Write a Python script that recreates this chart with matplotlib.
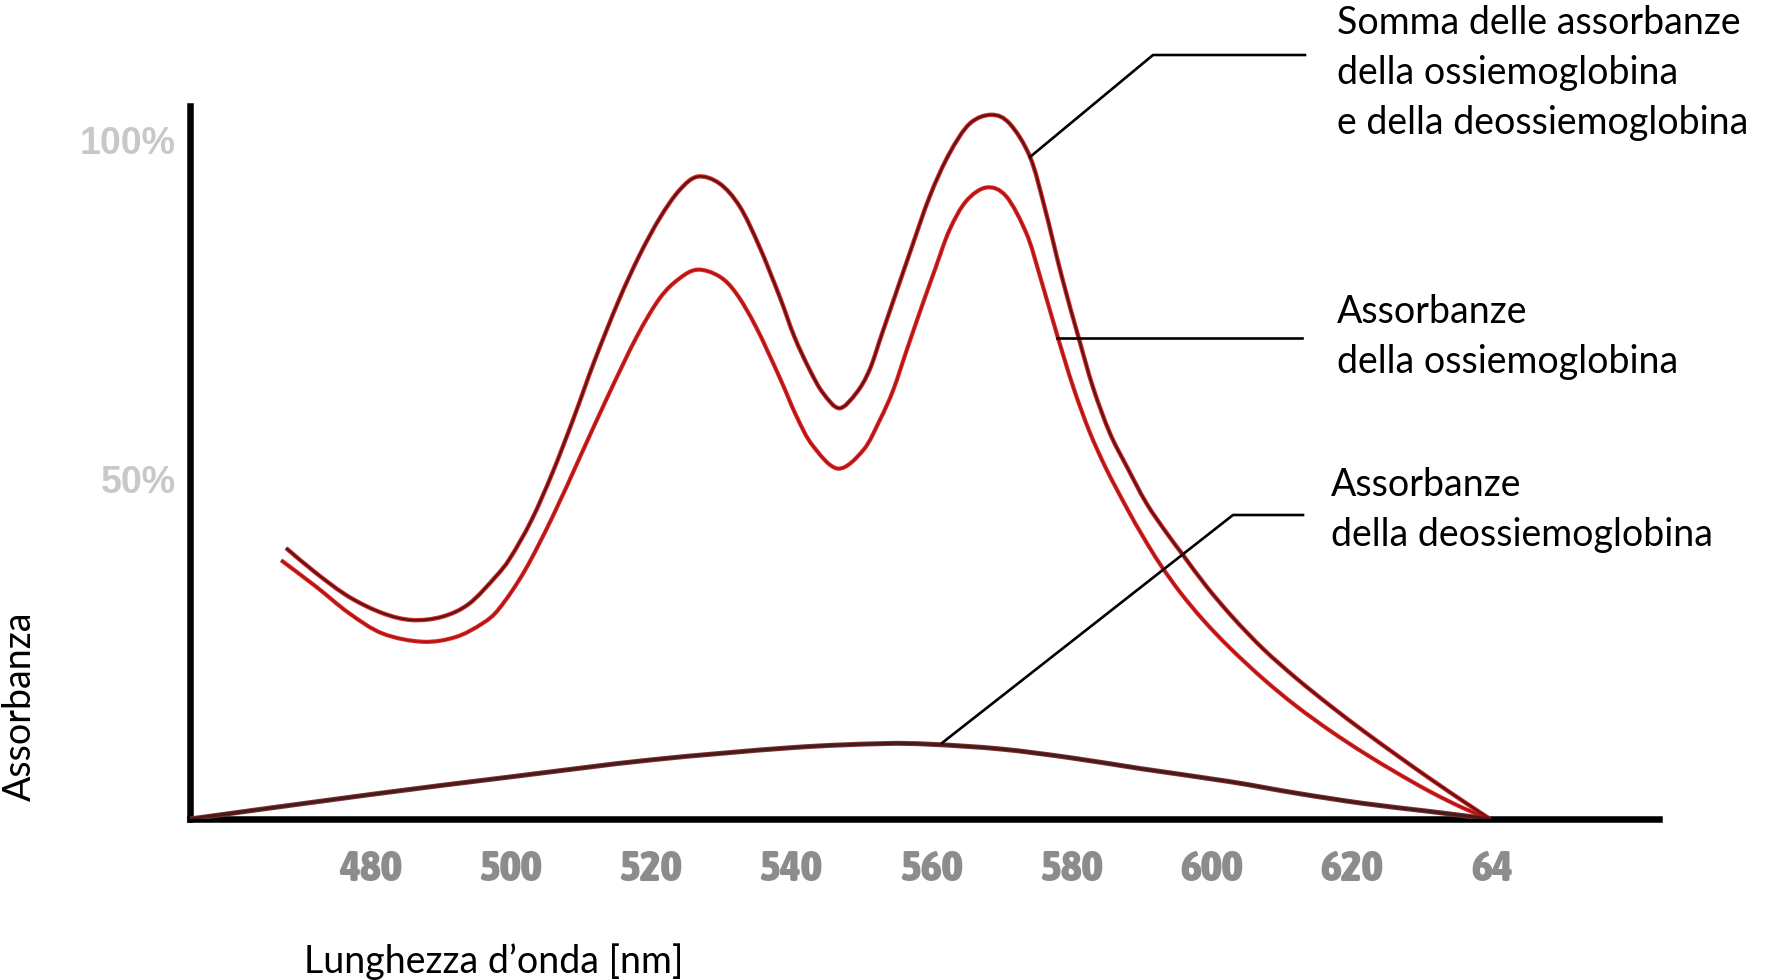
import matplotlib
matplotlib.use("Agg")
import matplotlib.pyplot as plt
import numpy as np
from matplotlib import font_manager as fm
from matplotlib.lines import Line2D
from matplotlib.path import Path
from matplotlib.patches import PathPatch

# --------------------
# Data (wavelength in nm, absorbance in %)
# --------------------
wl_sum = [468.0, 472.3, 477.0, 481.8, 486.0, 490.3, 494.1, 497.9, 500.0, 503.0,
          506.0, 509.0, 512.0, 515.5, 518.4, 521.3, 524.1, 526.7, 529.8, 532.7,
          535.5, 538.4, 540.5, 542.7, 544.6, 546.9, 549.3, 551.2, 553.0, 555.0,
          557.0, 559.8, 562.6, 565.5, 568.6, 571.2, 574.1, 576.2,
          578.6, 581.0, 583.1, 585.5, 587.9, 590.7, 593.6, 595.9, 599.3, 603.1,
          607.4, 612.1, 616.9, 621.6, 626.4, 631.2, 635.9, 639.7]
abs_sum = [39.9, 36.2, 32.7, 30.3, 29.3, 29.8, 31.7, 35.7, 38.5, 44.0,
           51.0, 59.0, 67.5, 76.5, 83.0, 88.5, 92.6, 94.6, 93.6, 90.2,
           84.3, 76.9, 71.0, 66.1, 62.7, 60.5, 62.7, 66.1, 71.5, 77.5,
           83.5, 91.7, 98.0, 102.4, 103.7, 102.4, 97.5, 90.0,
           80.0, 71.0, 63.5, 56.8, 51.9, 46.5, 42.1, 38.9, 34.2, 29.6,
           25.0, 20.7, 16.7, 13.0, 9.4, 5.9, 2.6, 0.0]

wl_oxy = [467.3, 472.3, 477.0, 481.8, 487.5, 492.2, 496.0, 498.4, 502.0, 506.0,
          510.0, 514.0, 518.0, 521.3, 524.1, 526.7, 529.8, 532.2, 535.0, 538.4,
          540.8, 543.1, 546.7, 550.3, 552.7, 554.6, 556.5, 558.5, 560.5, 562.6,
          565.0, 567.9, 570.7, 573.6, 575.5, 577.9, 580.3, 582.6, 585.0, 587.9,
          590.2, 592.6, 595.5, 598.8, 602.6, 607.4, 612.1, 616.9, 621.6, 626.4,
          631.2, 635.9, 639.7]
abs_oxy = [38.1, 34.2, 30.3, 27.3, 26.1, 26.8, 28.8, 31.0, 36.5, 44.5,
           53.5, 62.5, 71.0, 76.7, 79.6, 80.9, 79.9, 77.4, 72.5, 65.0,
           59.3, 55.0, 51.6, 54.3, 58.8, 63.2, 69.0, 75.0, 80.8, 86.7,
           91.0, 93.0, 91.7, 86.2, 80.0, 71.5, 63.5, 57.0, 51.5, 45.8,
           41.6, 37.6, 33.4, 29.3, 25.2, 20.6, 16.6, 13.0, 9.8, 6.8,
           4.0, 1.6, 0.0]

wl_deoxy = [454.3, 480, 500, 520, 540, 553, 560, 570, 580, 590,
            602.6, 612.1, 621.6, 631.2, 639.7]
abs_deoxy = [0.0, 3.6, 6.2, 8.7, 10.5, 11.1, 11.0, 10.3, 9.0, 7.4,
             5.5, 3.8, 2.3, 1.1, 0.0]

x_ticks = [480, 500, 520, 540, 560, 580, 600, 620, 640]
x_tick_labels = ["480", "500", "520", "540", "560", "580", "600", "620", "64"]
y_ticks = [50, 100]
y_tick_labels = ["50%", "100%"]

label_sum = ["Somma delle assorbanze", "della ossiemoglobina", "e della deossiemoglobina"]
label_oxy = ["Assorbanze", "della ossiemoglobina"]
label_deoxy = ["Assorbanze", "della deossiemoglobina"]

W, H = 1780, 980


def fx(px):
    return px / W


def fy(py):
    return 1 - py / H


def smooth_path(x, y):
    """Cubic Bezier path through the read points (drawn smooth, like the original)."""
    p = np.column_stack([x, y]).astype(float)
    n = len(p)
    verts = [p[0]]
    codes = [Path.MOVETO]
    for i in range(n - 1):
        p0 = p[i - 1] if i > 0 else p[i]
        p3 = p[i + 2] if i + 2 < n else p[i + 1]
        c1 = p[i] + (p[i + 1] - p0) / 6
        c2 = p[i + 1] - (p3 - p[i]) / 6
        verts += [c1, c2, p[i + 1]]
        codes += [Path.CURVE4] * 3
    return Path(verts, codes)


def draw_curve(ax, x, y, halo, core, lw_halo, lw_core):
    path = smooth_path(x, y)
    for col, lw, z in [(halo, lw_halo, 3), (core, lw_core, 4)]:
        ax.add_patch(PathPatch(path, fill=False, edgecolor=col, lw=lw,
                               capstyle="butt", joinstyle="round", zorder=z))


def condensed_bold(size):
    """Pick a narrow bold sans if one is installed, else Liberation Sans bold."""
    def is_bold(f):
        w = f.weight
        if isinstance(w, str):
            return w in ("bold", "semibold", "demibold", "heavy", "extra bold")
        return w >= 600

    cands = [f for f in fm.fontManager.ttflist
             if ("condensed" in str(f.stretch) or "Narrow" in f.name
                 or "Condensed" in f.name)
             and is_bold(f) and f.style == "normal"
             and "Serif" not in f.name and "Mono" not in f.name]
    if cands:
        cands.sort(key=lambda f: ("extra" in str(f.stretch), f.name))
        return fm.FontProperties(fname=cands[0].fname, size=size)
    return fm.FontProperties(family="Liberation Sans", weight="bold", size=size - 3)


fig = plt.figure(figsize=(W / 100, H / 100), dpi=100)
ax = fig.add_axes([fx(190), fy(819), fx(1659) - fx(190), fy(106) - fy(819)])
ax.set_xlim(454.3, 663.8)
ax.set_ylim(0, 105.0)

for s in ["top", "right"]:
    ax.spines[s].set_visible(False)
for s in ["left", "bottom"]:
    ax.spines[s].set_linewidth(4.7)
    ax.spines[s].set_color("black")
    ax.spines[s].set_capstyle("projecting")

ax.set_xticks(x_ticks)
ax.set_xticklabels(x_tick_labels, fontproperties=condensed_bold(32),
                   color="#8c8c8c")
ax.set_yticks(y_ticks)
ax.set_yticklabels(y_tick_labels, fontsize=27, fontweight="bold",
                   color="#c8c8c8", family=["Liberation Sans", "DejaVu Sans"])
ax.tick_params(axis="x", length=0, pad=21)
ax.tick_params(axis="y", length=0, pad=10)

draw_curve(ax, wl_sum, abs_sum, "#d42a2a", "#5e1212", 3.2, 1.6)
draw_curve(ax, wl_oxy, abs_oxy, "#e42222", "#a81818", 3.0, 1.4)
draw_curve(ax, wl_deoxy, abs_deoxy, "#7a3434", "#4a1a1a", 3.6, 2.2)

# leader lines (pixel positions of the reference)
leaders = [
    [(1030, 157), (1153, 55), (1305, 55)],
    [(1057, 338), (1302, 338)],
    [(942, 743), (1233, 515), (1303, 515)],
]
for pts in leaders:
    fig.add_artist(Line2D([fx(p[0]) for p in pts], [fy(p[1]) for p in pts],
                          color="black", lw=1.9, transform=fig.transFigure,
                          zorder=5))

text_font = ["Lato", "DejaVu Sans"]
fs = 27
for i, line in enumerate(label_sum):
    fig.text(fx(1337), fy(34 + 50 * i), line, fontsize=fs, family=text_font,
             va="baseline", ha="left")
for i, line in enumerate(label_oxy):
    fig.text(fx(1337), fy(323 + 50 * i), line, fontsize=fs, family=text_font,
             va="baseline", ha="left")
for i, line in enumerate(label_deoxy):
    fig.text(fx(1331), fy(496 + 50 * i), line, fontsize=fs, family=text_font,
             va="baseline", ha="left")

fig.text(fx(304), fy(973), "Lunghezza d\u2019onda [nm]", fontsize=fs,
         family=text_font, va="baseline", ha="left")
fig.text(fx(20), fy(706), "Assorbanza", fontsize=fs, family=text_font,
         rotation=90, va="center", ha="center")

fig.savefig("out.png", dpi=100)
